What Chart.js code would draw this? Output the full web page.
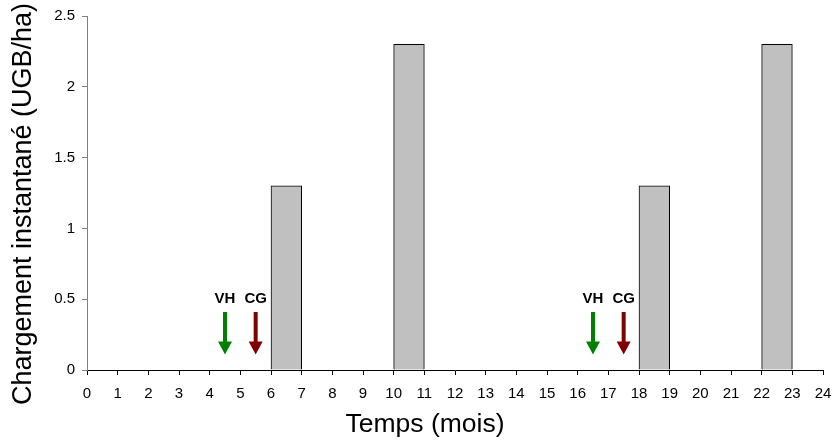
<!DOCTYPE html>
<html>
<head>
<meta charset="utf-8">
<script src="https://cdn.jsdelivr.net/npm/chart.js@4/dist/chart.umd.min.js"></script>
<style>
  body { margin: 0; background: #fff; }
</style>
</head>
<body>
<canvas id="chart" width="833" height="441"></canvas>
<script>
// mois (créneaux des barres)
const mois = ['0', '1', '2', '3', '4', '5', '6', '7', '8', '9', '10', '11',
  '12', '13', '14', '15', '16', '17', '18', '19', '20', '21', '22', '23'];
const chargement = [null, null, null, null, null, null, 1.3, null, null, null, 2.3, null,
  null, null, null, null, null, null, 1.3, null, null, null, 2.3, null];

// interventions (flèches)
const interventions = ['VH', 'CG', 'VH', 'CG'];
const interventionMois = [4.5, 5.5, 16.5, 17.5];
const interventionCouleurs = ['#008000', '#800000', '#008000', '#800000'];

const yTicks = [0, 0.5, 1, 1.5, 2, 2.5];

const titreX = 'Temps (mois)';
const titreY = 'Chargement instantané (UGB/ha)';

const FONT = "'Liberation Sans', Arial, sans-serif";
const flecheHaut = 0.41, flecheBas = 0.11, etiquetteY = 0.5;

const arrowsPlugin = {
  id: 'arrows',
  afterDatasetsDraw(chart) {
    const ctx = chart.ctx;
    const x = chart.scales.x, y = chart.scales.y;
    ctx.save();
    interventions.forEach((lab, i) => {
      const px = x.getPixelForValue(interventionMois[i]);
      const top = y.getPixelForValue(flecheHaut);
      const tip = y.getPixelForValue(flecheBas);
      const headH = 13, headW = 7, shaft = 2;
      ctx.fillStyle = interventionCouleurs[i];
      ctx.beginPath();
      ctx.moveTo(px - shaft, top);
      ctx.lineTo(px + shaft, top);
      ctx.lineTo(px + shaft, tip - headH);
      ctx.lineTo(px + headW, tip - headH);
      ctx.lineTo(px, tip);
      ctx.lineTo(px - headW, tip - headH);
      ctx.lineTo(px - shaft, tip - headH);
      ctx.closePath();
      ctx.fill();
      ctx.fillStyle = '#000';
      ctx.font = 'bold 15px ' + FONT;
      ctx.textAlign = 'center';
      ctx.textBaseline = 'middle';
      ctx.fillText(lab, px, y.getPixelForValue(etiquetteY));
    });
    ctx.restore();
  },
  afterDraw(chart) {
    // titres d'axes, placés comme dans la figure d'origine
    const ctx = chart.ctx;
    ctx.save();
    ctx.fillStyle = '#000';
    ctx.font = '26.5px ' + FONT;
    ctx.textAlign = 'center';
    ctx.textBaseline = 'middle';
    ctx.fillText(titreX, 425, 425);
    ctx.translate(24, 204);
    ctx.rotate(-Math.PI / 2);
    ctx.font = '27px ' + FONT;
    ctx.fillText(titreY, 0, 0);
    ctx.restore();
  }
};

new Chart(document.getElementById('chart'), {
  type: 'bar',
  data: {
    labels: mois,
    datasets: [{
      data: chargement,
      xAxisID: 'xCat',
      backgroundColor: '#c0c0c0',
      borderColor: '#000',
      borderWidth: 1,
      barPercentage: 1,
      categoryPercentage: 1
    }]
  },
  options: {
    responsive: false,
    animation: false,
    layout: { padding: { left: 0, right: 10, top: 15, bottom: 0 } },
    plugins: { legend: { display: false }, tooltip: { enabled: false } },
    scales: {
      xCat: { type: 'category', axis: 'x', display: false, offset: true },
      x: {
        type: 'linear', position: 'bottom', min: 0, max: 24, offset: false,
        afterFit: s => { s.height = 71; s.paddingLeft = 0; s.paddingRight = 0; },
        border: { color: '#000', width: 1 },
        grid: { offset: false, drawOnChartArea: false, tickLength: 5, color: '#000' },
        ticks: { stepSize: 1, autoSkip: false, maxRotation: 0, padding: 10, color: '#000',
          font: { family: FONT, size: 15 } }
      },
      y: {
        min: 0, max: 2.5,
        afterFit: s => { s.width = 87; },
        afterBuildTicks: s => { s.ticks = yTicks.map(v => ({ value: v })); },
        border: { color: '#808080', width: 1 },
        grid: { drawOnChartArea: false, tickLength: 5, color: '#808080' },
        ticks: { padding: 7, color: '#000', font: { family: FONT, size: 15 },
          callback: v => String(v) }
      }
    }
  },
  plugins: [arrowsPlugin]
});
</script>
</body>
</html>
